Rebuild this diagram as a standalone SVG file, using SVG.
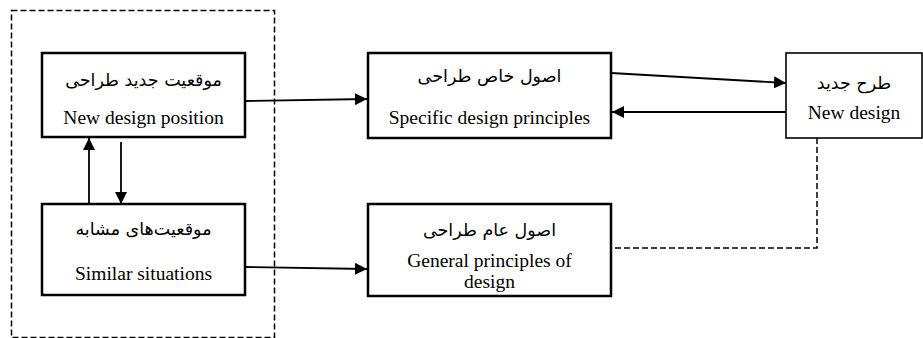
<svg xmlns="http://www.w3.org/2000/svg" width="923" height="338" viewBox="0 0 923 338">
<style>
.bx{fill:#fff;stroke:#000;stroke-width:2.5}
.bx2{fill:#fff;stroke:#000;stroke-width:1.6}
.en{font-family:"Liberation Serif","Times New Roman",serif;font-size:19.5px;fill:#000;text-anchor:middle}
.fa{font-family:"DejaVu Sans","Noto Sans",sans-serif;font-size:17.5px;fill:#000;text-anchor:middle}
.ln{stroke:#000;stroke-width:1.8;fill:none}
.dash{stroke:#000;stroke-width:1.5;fill:none;stroke-dasharray:6,3}
</style>
<defs>
<marker id="ah2" viewBox="0 0 10 10" refX="10" refY="5" markerWidth="12" markerHeight="12" orient="auto" markerUnits="userSpaceOnUse">
<path d="M0,0 L10,5 L0,10 z" fill="#000"/>
</marker>
</defs>
<rect x="11.5" y="10.5" width="263" height="327" class="dash"/>
<g id="connectors">
<line x1="245" y1="101" x2="367" y2="99" class="ln" marker-end="url(#ah2)"/>
<line x1="245" y1="267" x2="367" y2="269" class="ln" marker-end="url(#ah2)"/>
<line x1="89" y1="204" x2="89" y2="138" class="ln" marker-end="url(#ah2)"/>
<line x1="121" y1="142" x2="121" y2="204" class="ln" marker-end="url(#ah2)"/>
<line x1="611" y1="73" x2="786" y2="83" class="ln" marker-end="url(#ah2)"/>
<line x1="786" y1="112" x2="612" y2="112" class="ln" marker-end="url(#ah2)"/>
<polyline points="817,138 817,248 611,248" class="dash"/>
</g>
<g id="n1">
<rect x="42" y="53" width="203" height="84" class="bx"/>
<text x="143.5" y="86" class="fa">موقعیت جدید طراحی</text>
<text x="143.5" y="124" class="en">New design position</text>
</g>
<g id="n2">
<rect x="42" y="204" width="203" height="91" class="bx"/>
<text x="143.5" y="235" class="fa">موقعیت‌های مشابه</text>
<text x="143.5" y="280" class="en">Similar situations</text>
</g>
<g id="n3">
<rect x="368" y="53" width="243" height="85" class="bx"/>
<text x="489.5" y="82" class="fa">اصول خاص طراحی</text>
<text x="489.5" y="124" class="en">Specific design principles</text>
</g>
<g id="n4">
<rect x="368" y="204" width="243" height="92" class="bx"/>
<text x="489.5" y="236" class="fa">اصول عام طراحی</text>
<text x="489.5" y="267" class="en">General principles of</text>
<text x="489.5" y="288" class="en">design</text>
</g>
<g id="n5">
<rect x="786" y="53" width="136" height="85" class="bx2"/>
<text x="854" y="89" class="fa">طرح جدید</text>
<text x="854" y="119" class="en">New design</text>
</g>
</svg>
